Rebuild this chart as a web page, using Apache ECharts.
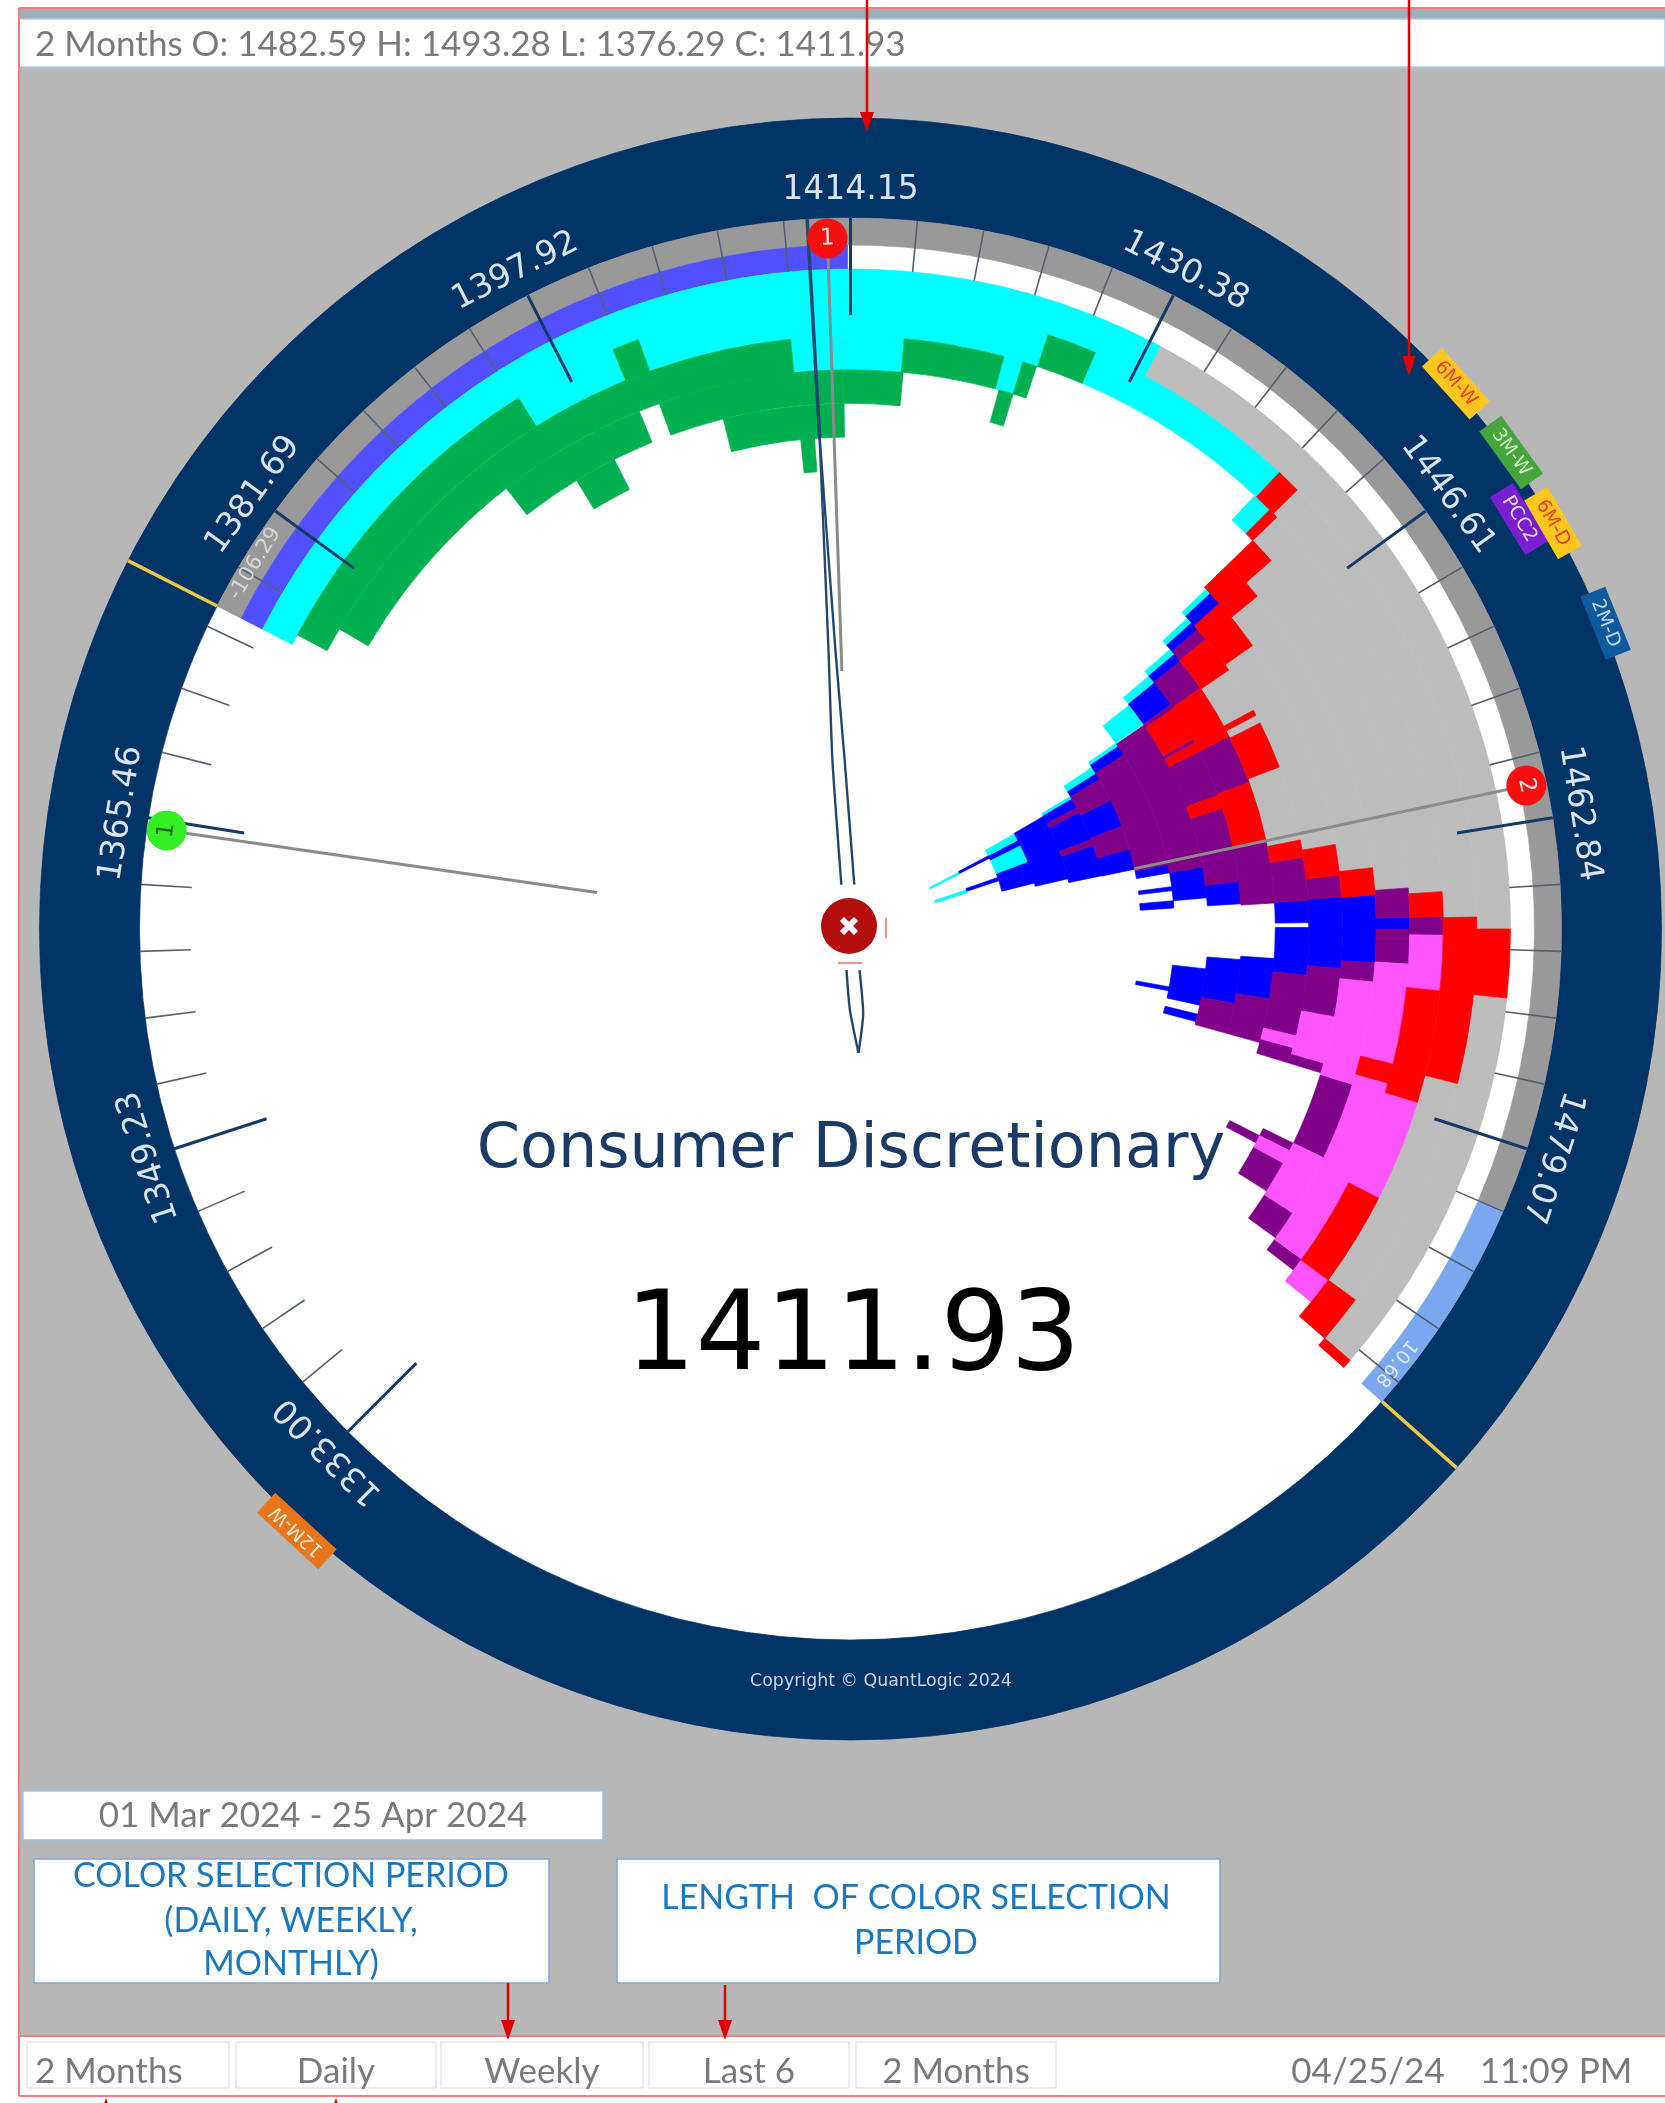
<!DOCTYPE html>
<html>
<head>
<meta charset="utf-8">
<title>Consumer Discretionary</title>
<script src="https://cdn.jsdelivr.net/npm/echarts@6/dist/echarts.min.js"></script>
<style>
    html, body { margin: 0; padding: 0; background: #fff; }
    #chart { width: 1665px; height: 2103px; }
</style>
</head>
<body>
<div id="chart"></div>
<script>
//#region DATA
// each bar: [ring, low price, high price], ring 0 is the outermost period
const greyBars = [
    [0, 1430.98, 1468.25], [0, 1471.86, 1492.77], [1, 1441.50, 1467.59], [1, 1476.84, 1490.07],
    [2, 1441.80, 1466.08], [3, 1443.48, 1465.72], [4, 1444.63, 1464.22], [5, 1447.09, 1462.30],
    [6, 1447.57, 1461.52]
];
const cyanBars = [
    [0, 1376.29, 1430.98], [1, 1394.91, 1400.75], [1, 1402.25, 1425.21], [1, 1427.98, 1440.12],
    [2, 1410.66, 1417.28], [2, 1423.17, 1424.31], [2, 1440.00, 1441.20], [5, 1441.98, 1442.40],
    [6, 1442.58, 1443.06], [7, 1443.48, 1444.02], [8, 1444.02, 1444.75], [9, 1444.93, 1447.21],
    [10, 1447.21, 1447.63], [11, 1447.93, 1448.83], [12, 1449.55, 1449.98], [14, 1450.10, 1451.54],
    [14, 1452.44, 1455.87], [16, 1451.60, 1452.20], [16, 1457.01, 1457.91]
];
const greenBars = [
    [1, 1376.88, 1394.91], [1, 1400.75, 1402.25], [1, 1425.21, 1427.98],
    [2, 1378.33, 1410.66], [2, 1417.28, 1423.17], [2, 1424.31, 1425.15],
    [3, 1391.31, 1400.81], [3, 1402.13, 1417.40], [3, 1423.41, 1424.31],
    [4, 1395.27, 1398.10], [4, 1405.73, 1413.73], [5, 1410.66, 1411.63]
];
const blueBars = [
    [3, 1467.53, 1468.25], [4, 1466.02, 1470.47], [5, 1442.40, 1443.36], [5, 1466.02, 1471.01],
    [6, 1443.06, 1443.72], [6, 1466.08, 1467.77], [6, 1468.13, 1471.73], [7, 1444.02, 1444.75],
    [7, 1470.65, 1473.96], [8, 1444.81, 1447.21], [8, 1464.04, 1466.02], [8, 1470.95, 1474.86],
    [9, 1462.24, 1465.24], [9, 1472.10, 1475.64], [9, 1476.54, 1477.27], [10, 1447.63, 1448.71],
    [10, 1461.34, 1462.24], [10, 1463.74, 1464.16], [10, 1465.24, 1466.02], [10, 1474.44, 1474.86],
    [11, 1448.83, 1449.61], [11, 1452.44, 1455.81], [11, 1458.63, 1461.10], [12, 1449.98, 1451.30],
    [12, 1452.02, 1455.99], [12, 1456.83, 1461.04], [13, 1450.04, 1460.43], [14, 1451.54, 1452.44],
    [14, 1455.87, 1459.83], [15, 1451.42, 1452.02], [15, 1456.65, 1457.43]
];
const purpleBars = [
    [2, 1467.53, 1468.61], [3, 1465.72, 1467.53], [3, 1468.25, 1470.41], [4, 1470.47, 1471.73],
    [4, 1478.59, 1483.76], [4, 1487.91, 1489.89], [3, 1490.01, 1490.85], [5, 1464.46, 1466.02],
    [5, 1471.01, 1474.44], [5, 1477.75, 1478.47], [5, 1483.76, 1484.36], [5, 1485.32, 1487.60],
    [6, 1443.72, 1444.69], [6, 1462.84, 1466.08], [6, 1471.73, 1476.36], [6, 1477.27, 1478.47],
    [6, 1484.36, 1484.96], [7, 1444.75, 1447.51], [7, 1452.02, 1456.11], [7, 1461.04, 1466.14],
    [7, 1473.96, 1477.57], [8, 1447.21, 1447.63], [8, 1450.82, 1451.18], [8, 1452.02, 1456.23],
    [8, 1457.43, 1464.04], [8, 1474.86, 1477.57], [9, 1447.33, 1462.24], [10, 1448.71, 1461.34],
    [11, 1449.61, 1452.44], [11, 1455.81, 1458.63], [12, 1451.30, 1452.02], [12, 1455.99, 1456.83]
];
const pinkBars = [
    [2, 1468.61, 1471.86], [2, 1478.47, 1484.48], [2, 1490.07, 1491.69], [3, 1470.41, 1476.66],
    [3, 1477.87, 1490.01], [4, 1471.73, 1478.59], [4, 1483.76, 1487.91], [5, 1474.44, 1477.75],
    [5, 1484.36, 1485.32], [6, 1476.36, 1477.27]
];
const redBars = [
    [0, 1468.25, 1471.86], [0, 1492.77, 1493.28], [1, 1440.12, 1441.50], [1, 1467.59, 1476.84],
    [1, 1490.07, 1492.77], [2, 1441.20, 1441.80], [2, 1466.08, 1467.53], [2, 1471.86, 1478.47],
    [2, 1484.48, 1490.07], [3, 1441.80, 1443.48], [3, 1476.66, 1477.87], [4, 1441.80, 1444.63],
    [4, 1464.22, 1466.02], [5, 1443.36, 1447.09], [5, 1462.30, 1464.46], [6, 1444.69, 1447.57],
    [6, 1451.12, 1451.54], [6, 1452.20, 1455.81], [6, 1461.52, 1462.84], [7, 1447.51, 1452.02],
    [7, 1456.11, 1461.04], [8, 1447.63, 1450.82], [8, 1451.18, 1452.02], [8, 1456.23, 1457.43]
];

// the two months range around the rim
const monthBlue = [1376.29, 1414.00];
const monthGrey = [1376.29, 1482.30];
const monthLightBlue = [1482.30, 1493.28];
const rangeMarks = [1376.29, 1493.28];
const rangeTexts = [['-106.29', 1379.0], ['10.68', 1491.4]];

const tickLabels = ['1333.00', '1349.23', '1365.46', '1381.69', '1397.92', '1414.15', '1430.38', '1446.61', '1462.84', '1479.07'];

const tagNames = ['6M-W', '3M-W', 'PCC2', '6M-D', '2M-D', '12M-W'];
const tagPrices = [1443.0, 1446.73, 1449.31, 1450.2, 1455.0, 1331.56];
const tagRings = [-4.6, -4.6, -3.7, -4.5, -4.6, -4.7];

const markerPrices = [1413.0, 1461.04, 1364.98];
const markerEnds = [11.96, 11.01, 12.02];
const markerLabels = ['1', '2', '1'];

// thin path through the middle: [ring, price]
const stemLine = [[-1.55, 1412.05], [4.97, 1411.99]];
const leafLeft = [[4.97, 1411.99], [11.31, 1411.44], [14.58, 1410.48], [18.36, 1406.94]];
const leafRight = [[4.97, 1411.99], [11.34, 1412.29], [14.58, 1412.95], [18.39, 1417.4]];
const tailLeft = [[18.42, 1525.72], [17.23, 1522.6], [15.95, 1520.13]];
const tailRight = [[18.39, 1514.89], [17.11, 1517.2], [15.95, 1520.13]];
//#endregion DATA

//#region HELPERS
const ringOf = rows => rows.map(r => [r[0], r[0] + 1, r[1], r[2]]);
const RIM_GREY = -0.714;
const RIM_INNER = -1.518;
const RING_OUT = -4.494;
const RING_IN = 19.643;
const PRICE_MIN = 1333;
const PRICE_MAX = 1549.4;

function arcs(color, rows) {
    return {
        type: 'custom',
        coordinateSystem: 'polar',
        silent: true,
        encode: { radius: 0, angle: 2 },
        data: rows,
        renderItem(params, api) {
            const a = api.coord([api.value(0), api.value(2)]);
            const b = api.coord([api.value(1), api.value(3)]);
            const c = params.coordSys;
            return {
                type: 'sector',
                shape: {
                    cx: c.cx, cy: c.cy, r: a[2], r0: b[2],
                    startAngle: -a[3], endAngle: -b[3], clockwise: true
                },
                style: { fill: color, stroke: color, lineWidth: 0.7 }
            };
        }
    };
}

function spokes(color, width, rows) {
    return {
        type: 'custom',
        coordinateSystem: 'polar',
        silent: true,
        encode: { radius: 0, angle: 1 },
        data: rows,
        renderItem(params, api) {
            const a = api.coord([api.value(0), api.value(1)]);
            const b = api.coord([api.value(2), api.value(1)]);
            return {
                type: 'line',
                shape: { x1: a[0], y1: a[1], x2: b[0], y2: b[1] },
                style: { stroke: color, lineWidth: width }
            };
        }
    };
}

function rimText(rows, font, color) {
    return {
        type: 'custom',
        coordinateSystem: 'polar',
        silent: true,
        encode: { radius: 0, angle: 1 },
        data: rows,
        renderItem(params, api) {
            const i = params.dataIndex;
            const p = api.coord([rows[i][0], rows[i][1]]);
            return {
                type: 'text',
                x: p[0], y: p[1],
                rotation: p[3] - Math.PI / 2,
                style: { text: rows[i][2], font, fill: color, align: 'center', verticalAlign: 'middle' }
            };
        }
    };
}

function pathLine(rows, width) {
    return {
        type: 'line',
        coordinateSystem: 'polar',
        silent: true,
        symbol: 'none',
        smooth: 0.2,
        clip: false,
        data: rows,
        lineStyle: { color: '#25466f', width }
    };
}

function rect(x, y, w, h, fill, stroke) {
    return { type: 'rect', z: 80, shape: { x, y, width: w, height: h }, style: { fill, stroke: stroke || null, lineWidth: stroke ? 1.5 : 0 } };
}

function label(text, x, y, fill, font, align) {
    return { type: 'text', z: 85, style: { text, x, y, fill, font, align: align || 'center', verticalAlign: 'middle' } };
}

function arrow(x, y0, y1) {
    const dir = y1 > y0 ? 1 : -1;
    return [
        { type: 'line', z: 90, shape: { x1: x, y1: y0, x2: x, y2: y1 - dir * 12 }, style: { stroke: '#e00000', lineWidth: 2.5 } },
        { type: 'polygon', z: 90, shape: { points: [[x - 7, y1 - dir * 20], [x + 7, y1 - dir * 20], [x, y1]] }, style: { fill: '#e00000' } }
    ];
}
//#endregion HELPERS

//#region TICKS
const majorPrices = tickLabels.map(Number);
const tickStep = (majorPrices[1] - majorPrices[0]) / 5;
const minorPrices = [];
majorPrices.forEach(p => {
    for (let i = 1; i < 5; i++) minorPrices.push(p + i * tickStep);
});
//#endregion TICKS

//#region CHART
const chart = echarts.init(document.getElementById('chart'), null, { renderer: 'canvas' });
const uiFont = 'Lato, "Open Sans", sans-serif';
const ringFont = '"DejaVu Sans", Verdana, sans-serif';

const markerColors = ['#f50f0f', '#f50f0f', '#33ee22'];
const markerTextColors = ['#ffe8e8', '#ffe8e8', '#2a5a20'];
const tagFills = ['#ffc61e', '#46a53c', '#7a1fd0', '#ffc61e', '#0f5a9e', '#e8751a'];
const tagTexts = ['#e8431a', '#cfeec0', '#e8d8ff', '#e8431a', '#bcd8f0', '#ffe8d0'];

const series = [
    arcs('#ffffff', [[RIM_INNER, RING_IN, PRICE_MIN, PRICE_MAX]]),
    arcs('#003366', [[RING_OUT, RIM_INNER, PRICE_MIN, PRICE_MAX]]),
    arcs('#999999', [[RIM_INNER, RIM_GREY, monthGrey[0], monthGrey[1]]]),
    arcs('#7aa7ee', [[RIM_INNER, RIM_GREY, monthLightBlue[0], monthLightBlue[1]]]),
    arcs('#5050ff', [[RIM_GREY, 0, monthBlue[0], monthBlue[1]]]),
    arcs('#bcbcbc', ringOf(greyBars)),
    arcs('#00ffff', ringOf(cyanBars)),
    arcs('#00b050', ringOf(greenBars)),
    arcs('#0000ff', ringOf(blueBars)),
    arcs('#800088', ringOf(purpleBars)),
    arcs('#ff55ff', ringOf(pinkBars)),
    arcs('#ff0000', ringOf(redBars)),
    spokes('#55606e', 1.6, minorPrices.map(p => [RIM_INNER, p, 0])),
    spokes('#153a66', 3, majorPrices.map(p => [RIM_INNER, p, 1.37])),
    spokes('#e8c84a', 3.5, rangeMarks.map(p => [RING_OUT, p, RIM_INNER])),
    rimText(majorPrices.map((p, i) => [-2.33, p, tickLabels[i]]), '33px ' + ringFont, '#d8e4f0'),
    rimText(rangeTexts.slice(0, 1).map(r => [-1.15, r[1], r[0]]), '21px ' + ringFont, '#d6d6d6'),
    rimText(rangeTexts.slice(1).map(r => [-1.1, r[1], r[0]]), '19px ' + ringFont, '#dbe8fb'),
    pathLine(stemLine, 3.5),
    pathLine(leafLeft, 2.4),
    pathLine(leafRight, 2.4),
    pathLine(tailLeft, 2.4),
    pathLine(tailRight, 2.4),
    spokes('#8b8b8b', 3, markerPrices.map((p, i) => [-0.92, p, markerEnds[i]])),
    {
        type: 'custom',
        coordinateSystem: 'polar',
        silent: true,
        encode: { radius: 0, angle: 1 },
        data: markerPrices.map(p => [-0.92, p]),
        renderItem(params, api) {
            const i = params.dataIndex;
            const p = api.coord([api.value(0), api.value(1)]);
            return {
                type: 'group',
                children: [
                    { type: 'circle', shape: { cx: p[0], cy: p[1], r: 20 }, style: { fill: markerColors[i] } },
                    {
                        type: 'text', x: p[0], y: p[1], rotation: p[3] - Math.PI / 2,
                        style: { text: markerLabels[i], font: '23px ' + ringFont, fill: markerTextColors[i], align: 'center', verticalAlign: 'middle' }
                    }
                ]
            };
        }
    },
    {
        type: 'custom',
        coordinateSystem: 'polar',
        silent: true,
        encode: { radius: 0, angle: 1 },
        data: tagPrices.map((p, i) => [tagRings[i], p]),
        renderItem(params, api) {
            const i = params.dataIndex;
            const p = api.coord([api.value(0), api.value(1)]);
            return {
                type: 'text', x: p[0], y: p[1], rotation: p[3] - Math.PI / 2,
                style: {
                    text: tagNames[i], font: '19px ' + ringFont, fill: tagTexts[i],
                    align: 'center', verticalAlign: 'middle',
                    backgroundColor: tagFills[i], padding: [4, 9]
                }
            };
        }
    }
];
series.forEach((s, i) => { s.z = i + 2; });

const grey = '#7a7a7a';
const noteBlue = '#1b78c0';
const graphics = [
    // frame and header
    rect(0, 0, 1665, 8, '#ffffff'),
    rect(0, 0, 19, 2103, '#ffffff'),
    rect(19, 8, 1646, 11, '#9fadb6'),
    rect(19, 19, 1646, 48, '#ffffff', '#a8d0ee'),
    { type: 'line', z: 86, shape: { x1: 19, y1: 8, x2: 1665, y2: 8 }, style: { stroke: '#f08080', lineWidth: 2 } },
    { type: 'line', z: 86, shape: { x1: 19, y1: 8, x2: 19, y2: 2096 }, style: { stroke: '#f08080', lineWidth: 2 } },
    label('2 Months O: 1482.59 H: 1493.28 L: 1376.29 C: 1411.93', 35, 45, grey, '35px ' + uiFont, 'left'),

    // middle title
    label('Consumer Discretionary', 851, 1151, '#1a3a68', '62px ' + ringFont),
    label('1411.93', 853, 1340, '#000000', '110px ' + ringFont),
    label('Copyright \u00A9 QuantLogic 2024', 881, 1681, '#c8d4e4', '17.4px ' + ringFont),

    // close button
    { type: 'circle', z: 84, shape: { cx: 849, cy: 926, r: 42 }, style: { fill: '#ffffff' } },
    { type: 'circle', z: 85, shape: { cx: 849, cy: 926, r: 28 }, style: { fill: '#b30d0d' } },
    { type: 'line', z: 86, shape: { x1: 842, y1: 919, x2: 856, y2: 933 }, style: { stroke: '#ffffff', lineWidth: 6 } },
    { type: 'line', z: 86, shape: { x1: 856, y1: 919, x2: 842, y2: 933 }, style: { stroke: '#ffffff', lineWidth: 6 } },
    { type: 'line', z: 86, shape: { x1: 886, y1: 918, x2: 886, y2: 938 }, style: { stroke: '#f09090', lineWidth: 2 } },
    { type: 'line', z: 86, shape: { x1: 838, y1: 963, x2: 862, y2: 963 }, style: { stroke: '#f09090', lineWidth: 2 } },

    // notes
    rect(23, 1791, 580, 49, '#ffffff', '#9cc4e4'),
    label('01 Mar 2024 - 25 Apr 2024', 313, 1816, grey, '35px ' + uiFont),
    rect(34, 1859, 515, 124, '#ffffff', '#8aa4d0'),
    label('COLOR SELECTION PERIOD', 291, 1876, noteBlue, '34px ' + uiFont),
    label('(DAILY, WEEKLY,', 291, 1921, noteBlue, '34px ' + uiFont),
    label('MONTHLY)', 291, 1964, noteBlue, '34px ' + uiFont),
    rect(617, 1859, 603, 124, '#ffffff', '#8aa4d0'),
    label('LENGTH  OF COLOR SELECTION', 916, 1898, noteBlue, '34px ' + uiFont),
    label('PERIOD', 916, 1943, noteBlue, '34px ' + uiFont),

    // bottom bar
    rect(0, 2036, 1665, 67, '#ffffff'),
    { type: 'line', z: 86, shape: { x1: 19, y1: 2036, x2: 1665, y2: 2036 }, style: { stroke: '#f08080', lineWidth: 2 } },
    { type: 'line', z: 86, shape: { x1: 19, y1: 2096, x2: 1665, y2: 2096 }, style: { stroke: '#f08080', lineWidth: 2 } },
    rect(27, 2042, 202, 46, '#ffffff', '#e6e6e6'),
    rect(236, 2042, 200, 46, '#ffffff', '#e6e6e6'),
    rect(441, 2042, 202, 46, '#ffffff', '#e6e6e6'),
    rect(649, 2042, 200, 46, '#ffffff', '#e6e6e6'),
    rect(856, 2042, 200, 46, '#ffffff', '#e6e6e6'),
    label('2 Months', 35, 2072, grey, '35px ' + uiFont, 'left'),
    label('Daily', 336, 2072, grey, '35px ' + uiFont),
    label('Weekly', 542, 2072, grey, '35px ' + uiFont),
    label('Last 6', 749, 2072, grey, '35px ' + uiFont),
    label('2 Months', 956, 2072, grey, '35px ' + uiFont),
    label('04/25/24', 1368, 2072, grey, '35px ' + uiFont),
    label('11:09 PM', 1556, 2072, grey, '35px ' + uiFont),

    // arrows
    ...arrow(867, 0, 132),
    ...arrow(1409, 0, 376),
    ...arrow(508, 1983, 2040),
    ...arrow(725, 1985, 2040),
    ...arrow(106, 2112, 2098),
    ...arrow(336, 2112, 2098)
];

chart.setOption({
    animation: false,
    backgroundColor: '#b7b7b7',
    polar: { center: [850.5, 929], radius: [0, 811] },
    radiusAxis: { type: 'value', inverse: true, min: RING_OUT, max: RING_IN, show: false },
    angleAxis: { type: 'value', min: PRICE_MIN, max: PRICE_MAX, startAngle: 225, clockwise: true, show: false },
    graphic: graphics,
    series
});
//#endregion CHART
</script>
</body>
</html>
